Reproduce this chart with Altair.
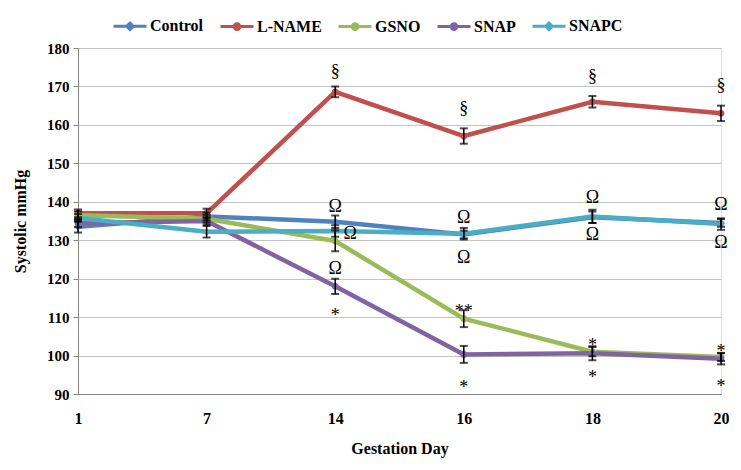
import altair as alt
import pandas as pd

# ---- data ----
days = ["1", "7", "14", "16", "18", "20"]
series_names = ["Control", "L-NAME", "GSNO", "SNAP", "SNAPC"]

control = [133.5, 136.2, 134.8, 131.5, 136.0, 134.5]
control_err = [1.5, 1.0, 1.6, 1.0, 1.5, 1.0]
lname = [137.0, 137.0, 168.6, 157.1, 166.0, 163.0]
lname_err = [1.0, 1.2, 1.4, 2.0, 1.5, 2.0]
gsno = [136.5, 135.6, 129.8, 109.6, 101.0, 99.6]
gsno_err = [1.0, 1.0, 2.7, 2.2, 1.2, 1.0]
snap = [134.4, 135.0, 118.0, 100.3, 100.6, 99.2]
snap_err = [1.0, 1.0, 2.0, 2.2, 1.8, 1.5]
snapc = [135.8, 132.2, 132.4, 131.7, 136.2, 134.2]
snapc_err = [1.0, 1.5, 1.5, 1.5, 1.7, 1.5]

ann_day = ["14", "16", "18", "20",
           "14", "14", "16", "16", "18", "18", "20", "20",
           "14", "16", "16", "18", "18", "20", "20"]
ann_value = [173.8, 164.2, 172.5, 170.1,
             138.7, 122.4, 135.9, 125.5, 140.9, 131.3, 139.1, 129.3,
             110.3, 111.2, 91.5, 102.5, 94.1, 100.8, 91.7]
ann_text = ["§", "§", "§", "§",
            "Ω", "Ω", "Ω", "Ω", "Ω", "Ω", "Ω", "Ω",
            "*", "**", "*", "*", "*", "*", "*"]

side_day = ["14"]
side_value = [131.5]
side_text = ["Ω"]

y_ticks = [90, 100, 110, 120, 130, 140, 150, 160, 170, 180]

# ---- styles ----
colors = ["#4F81BD", "#C0504D", "#9BBB59", "#8064A2", "#4BACC6"]
diamond_path = "M-1,0L1,0M-0.2,0L0,-0.2L0.2,0L0,0.2Z"
circle_path = "M-1,0L1,0M-0.17,0A0.17,0.17,0,1,1,0.17,0A0.17,0.17,0,1,1,-0.17,0Z"
legend_shapes = [diamond_path, circle_path, circle_path, circle_path, diamond_path]
FONT = "Times New Roman, Liberation Serif, DejaVu Serif, serif"

rows = []
for name, vals, errs in zip(series_names,
                            [control, lname, gsno, snap, snapc],
                            [control_err, lname_err, gsno_err, snap_err, snapc_err]):
    for i, (d, v, e) in enumerate(zip(days, vals, errs)):
        rows.append({"series": name, "day": d, "idx": i, "value": v, "lo": v - e, "hi": v + e})
df = pd.DataFrame(rows)
ann = pd.DataFrame({"day": ann_day, "value": ann_value, "text": ann_text})
side = pd.DataFrame({"day": side_day, "value": side_value, "text": side_text})

leg = alt.Legend(
    title=None, orient="none", legendX=34, legendY=-40, direction="horizontal",
    symbolSize=1089, symbolStrokeWidth=3, labelFont=FONT, labelFontWeight="bold",
    labelFontSize=16, labelColor="black", columnPadding=10, labelOffset=2,
)
cscale = alt.Scale(domain=series_names, range=colors)
color = alt.Color("series:N", scale=cscale, legend=leg, sort=series_names)

xaxis = alt.Axis(title="Gestation Day", labelAngle=0, ticks=False, grid=False,
                 labelFont=FONT, labelFontWeight="bold", labelFontSize=16,
                 labelColor="black", labelPadding=16, domainColor="#868686",
                 titleFont=FONT, titleFontWeight="bold", titleFontSize=16,
                 titleColor="black", titlePadding=14)
xscale = alt.Scale(domain=days, type="point", padding=0)
x = alt.X("day:N", sort=days, scale=xscale, axis=xaxis)

yaxis = alt.Axis(title="Systolic mmHg", values=y_ticks, tickCount=10,
                 labelOverlap=False,
                 labelFont=FONT, labelFontWeight="bold", labelFontSize=15,
                 labelColor="black", labelPadding=4, tickSize=5,
                 tickColor="#868686", domainColor="#868686",
                 gridColor="#C4C4C4", titleFont=FONT, titleFontWeight="bold",
                 titleFontSize=16, titleColor="black", titlePadding=18)
yscale = alt.Scale(domain=[90, 180], nice=False, zero=False)
y = alt.Y("value:Q", scale=yscale, axis=yaxis)

base = alt.Chart(df)
lines = base.mark_line(strokeWidth=4.5).encode(
    x=x, y=y, color=color, order=alt.Order("idx:Q"))
diamonds = base.transform_filter(
    alt.FieldOneOfPredicate(field="series", oneOf=["Control", "SNAPC"])
).mark_point(shape="diamond", filled=True, size=60, opacity=1).encode(x=x, y=y, color=color)
circles = base.transform_filter(
    alt.FieldOneOfPredicate(field="series", oneOf=["L-NAME", "GSNO", "SNAP"])
).mark_point(shape="circle", filled=True, size=45, opacity=1).encode(x=x, y=y, color=color)
legend_layer = base.transform_filter("false").mark_point(
    filled=True, opacity=1, strokeWidth=3).encode(
    x=x, y=y, color=color,
    stroke=alt.Stroke("series:N", scale=cscale, legend=leg, sort=series_names),
    shape=alt.Shape("series:N", scale=alt.Scale(domain=series_names, range=legend_shapes),
                    legend=leg, sort=series_names))
errbars = base.mark_errorbar(ticks=alt.TickConfig(size=8, thickness=2, color="black"),
                             thickness=1.5, color="black").encode(
    x=x, y=alt.Y("lo:Q", scale=yscale, axis=yaxis), y2="hi:Q")
texts = alt.Chart(ann).mark_text(font=FONT, fontSize=18, color="black",
                                 baseline="middle").encode(
    x=alt.X("day:N", sort=days, scale=xscale, axis=xaxis),
    y=alt.Y("value:Q", scale=yscale, axis=yaxis), text="text:N")
side_texts = alt.Chart(side).mark_text(font=FONT, fontSize=18, color="black",
                                       baseline="middle", dx=15).encode(
    x=alt.X("day:N", sort=days, scale=xscale, axis=xaxis),
    y=alt.Y("value:Q", scale=yscale, axis=yaxis), text="text:N")

chart = alt.layer(lines, diamonds, circles, legend_layer, errbars, texts, side_texts).properties(
    width=643, height=346,
    padding={"left": 70, "top": 40, "right": 8, "bottom": 68},
    autosize=alt.AutoSizeParams(type="none"),
).configure_view(strokeWidth=0).configure(background="white")

chart.save("out.html", embed_options={"renderer": "svg", "actions": False})
